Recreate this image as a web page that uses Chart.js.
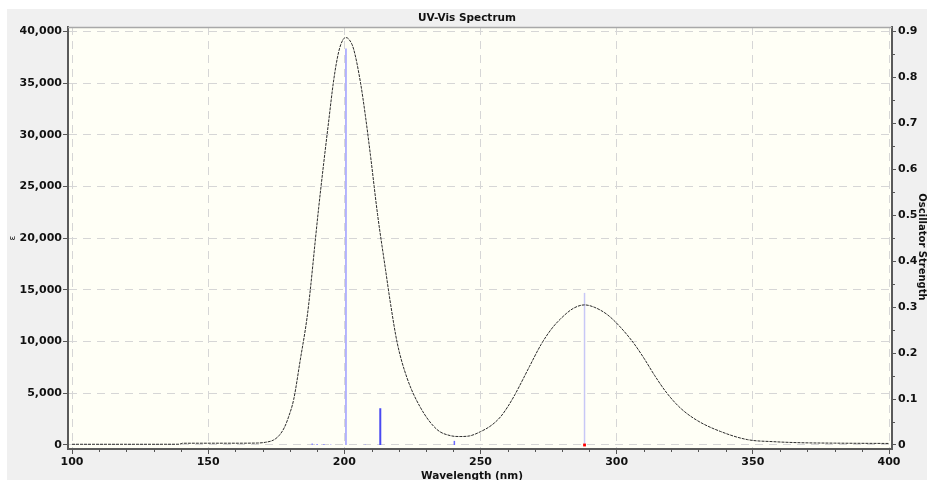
<!DOCTYPE html>
<html>
<head>
<meta charset="utf-8">
<title>UV-Vis Spectrum</title>
<script src="https://cdn.jsdelivr.net/npm/chart.js@4.4.1/dist/chart.umd.min.js"></script>
<style>
  html, body { margin: 0; padding: 0; background: #fff; }
</style>
</head>
<body>
<canvas id="uvChart" width="927" height="480"></canvas>
<script>
// broadened absorption curve: wavelength (nm) -> molar absorptivity
const wavelengths = [100, 120, 139.5, 140.5, 160, 168, 171, 174, 176, 178, 179.5, 181.4, 183.8, 186.3, 187.5,
    189.3, 190.6, 192.4, 194.2, 196.1, 197.9, 199.5, 200.6, 201.8, 203.4, 205.9, 207.7, 209.6, 212.2, 215.1,
    217, 219.4, 223, 228, 234, 239, 242.5, 246, 250, 254, 257.4, 260, 262.7, 264.7, 268, 272.2, 276, 279.4,
    284, 288.2, 292, 296.6, 301, 306.1, 310, 314, 318.5, 323.5, 329.7, 338.2, 348, 357.7, 367.6, 380, 400];
const epsilon = [70, 70, 75, 170, 175, 190, 260, 480, 900, 1700, 2700, 4400, 8200, 12300, 15000,
    19700, 23000, 27200, 31200, 35300, 38000, 39200, 39400, 39200, 38300, 35100, 31900, 28000, 22300, 17000,
    13600, 9900, 6500, 3600, 1500, 900, 820, 880, 1290, 1900, 2740, 3700, 4900, 5900, 7600, 9700, 11200, 12200,
    13200, 13550, 13300, 12600, 11500, 9900, 8400, 6700, 5000, 3550, 2350, 1300, 520, 320, 220, 180, 150];

// calculated transitions: wavelength (nm) -> oscillator strength
const stickWavelengths = [188.2, 190, 192.5, 195, 200.6, 207.7, 213.2, 240.4, 288.2];
const oscStrength = [0.003, 0.002, 0.002, 0.001, 0.863, 0.001, 0.080, 0.009, 0.331];
const stickColors = ['#8c8cff', '#8c8cff', '#8c8cff', '#8c8cff', '#9c9cff', '#8c8cff', '#4a4af2', '#6a6aff', '#c8c8f6'];

// highlighted transition marker
const markerWavelength = [288.2];
const markerStrength = [0];

const xTicks = [100, 150, 200, 250, 300, 350, 400];
const yTicks = [0, 5000, 10000, 15000, 20000, 25000, 30000, 35000, 40000];
const y2Ticks = [0, 0.1, 0.2, 0.3, 0.4, 0.5, 0.6, 0.7, 0.8, 0.9];

const FONT = 'DejaVu Sans';
const EPS_TO_F = 0.9 / 40000;

const datasets = [{
    label: 'spectrum',
    data: wavelengths.map((w, i) => ({ x: w, y: epsilon[i] })),
    yAxisID: 'y',
    borderColor: '#2b2b2b',
    borderWidth: 1,
    borderDash: [3, 1],
    pointRadius: 0,
    cubicInterpolationMode: 'monotone',
    order: 1
}];

stickWavelengths.forEach((w, i) => {
    datasets.push({
        label: 'f' + i,
        data: [{ x: w, y: 0 }, { x: w, y: oscStrength[i] }],
        yAxisID: 'y2',
        borderColor: stickColors[i],
        borderWidth: oscStrength[i] > 0.05 && oscStrength[i] < 0.2 ? 2 : 1.5,
        pointRadius: 0,
        order: 2
    });
});

datasets.push({
    label: 'marker',
    data: markerWavelength.map((w, i) => ({ x: w, y: markerStrength[i] })),
    yAxisID: 'y2',
    showLine: false,
    pointStyle: 'rect',
    pointRadius: 2,
    backgroundColor: '#ff0000',
    borderColor: '#ff0000',
    borderWidth: 0,
    clip: false,
    order: 0
});

const frame = {
    id: 'frame',
    beforeDraw(chart) {
        const { ctx, chartArea: a } = chart;
        ctx.save();
        ctx.fillStyle = '#f0f0f0';
        ctx.fillRect(0, 0, chart.width, chart.height);
        ctx.fillStyle = '#ffffff';
        ctx.fillRect(0, 0, chart.width, 9);
        ctx.fillRect(0, 0, 7, chart.height);
        ctx.fillStyle = '#fffff6';
        ctx.fillRect(a.left, a.top, a.right - a.left, a.bottom - a.top);
        ctx.restore();
    },
    afterDraw(chart) {
        const { ctx, chartArea: a } = chart;
        const xs = chart.scales.x, y2 = chart.scales.y2;
        ctx.save();
        // top frame line
        ctx.strokeStyle = '#a8a8a8';
        ctx.lineWidth = 1.5;
        ctx.beginPath();
        ctx.moveTo(a.left, a.top + 0.5);
        ctx.lineTo(a.right, a.top + 0.5);
        ctx.stroke();
        // minor ticks
        ctx.strokeStyle = '#555';
        ctx.lineWidth = 1;
        ctx.beginPath();
        for (let v = 110; v < 400; v += 10) {
            if (v % 50 === 0) continue;
            const px = Math.round(xs.getPixelForValue(v)) + 0.5;
            ctx.moveTo(px, a.bottom);
            ctx.lineTo(px, a.bottom + 3);
        }
        for (let k = 1; k < 18; k += 2) {
            const py = Math.round(y2.getPixelForValue(k * 0.05)) + 0.5;
            ctx.moveTo(a.right, py);
            ctx.lineTo(a.right + 3, py);
        }
        ctx.stroke();
        // titles
        ctx.fillStyle = '#111';
        ctx.textAlign = 'center';
        ctx.textBaseline = 'middle';
        ctx.font = 'bold 10.5px "' + FONT + '"';
        ctx.fillText('UV-Vis Spectrum', 467, 18);
        ctx.fillText('Wavelength (nm)', 472, 476);
        ctx.save();
        ctx.translate(922, 247);
        ctx.rotate(Math.PI / 2);
        ctx.font = 'bold 10px "' + FONT + '"';
        ctx.fillText('Oscillator Strength', 0, 0);
        ctx.restore();
        ctx.save();
        ctx.translate(13, 238);
        ctx.rotate(-Math.PI / 2);
        ctx.font = '9px "' + FONT + '"';
        ctx.fillText('ε', 0, 0);
        ctx.restore();
        ctx.restore();
    }
};

const tickFont = { family: FONT, size: 11, weight: 'bold' };

new Chart(document.getElementById('uvChart'), {
    type: 'line',
    data: { datasets: datasets },
    plugins: [frame],
    options: {
        responsive: false,
        animation: false,
        events: [],
        layout: { padding: { top: 27, left: 0, right: 0, bottom: 0 } },
        plugins: { legend: { display: false }, tooltip: { enabled: false }, title: { display: false } },
        scales: {
            x: {
                type: 'linear',
                position: 'bottom',
                min: 98.53,
                max: 401.1,
                afterBuildTicks: s => { s.ticks = xTicks.map(v => ({ value: v })); },
                afterFit: s => { s.height = 31; },
                grid: { color: '#d6d6d6', tickColor: '#555', tickLength: 5, lineWidth: 1 },
                border: { color: '#5a5a5a', width: 2, dash: [8, 6] },
                ticks: { color: '#111', font: tickFont, padding: 2, maxRotation: 0, callback: v => String(v) }
            },
            y: {
                type: 'linear',
                position: 'left',
                min: -387,
                max: 40425,
                afterBuildTicks: s => { s.ticks = yTicks.map(v => ({ value: v })); },
                afterFit: s => { s.width = 68; },
                grid: { color: '#d6d6d6', tickColor: '#555', tickLength: 5, lineWidth: 1 },
                border: { color: '#5a5a5a', width: 2, dash: [8, 6] },
                ticks: { color: '#111', font: tickFont, padding: 1, callback: v => v.toLocaleString('en-US') }
            },
            y2: {
                type: 'linear',
                position: 'right',
                min: -387 * EPS_TO_F,
                max: 40425 * EPS_TO_F,
                afterBuildTicks: s => { s.ticks = y2Ticks.map(v => ({ value: v })); },
                afterFit: s => { s.width = 35; },
                grid: { drawOnChartArea: false, tickColor: '#555', tickLength: 4 },
                border: { color: '#5a5a5a', width: 2 },
                ticks: { color: '#111', font: tickFont, padding: 2, callback: v => v === 0 ? '0' : v.toFixed(1) }
            }
        }
    }
});
</script>
</body>
</html>
